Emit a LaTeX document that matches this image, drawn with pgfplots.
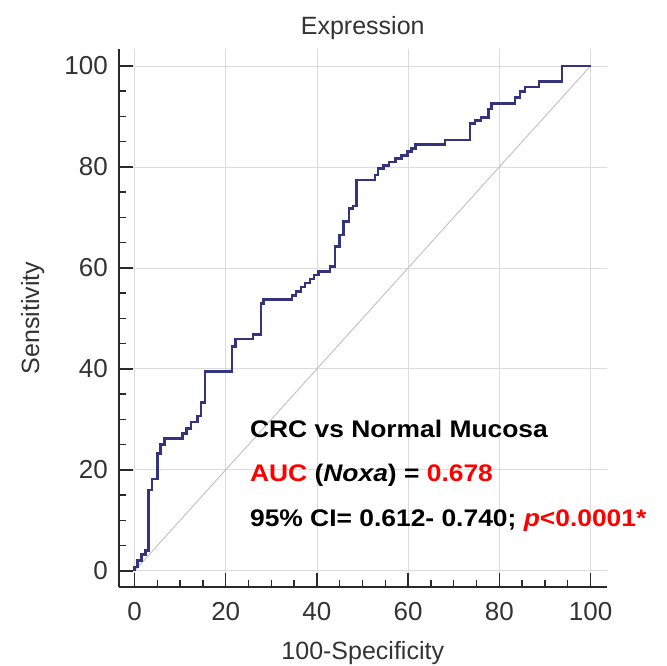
\documentclass[border=0pt]{standalone}
\usepackage{pgfplots}
\pgfplotsset{compat=1.18}
\usepackage{fontspec}
\setmainfont{Liberation Sans}
\definecolor{curve}{HTML}{34347E}
\definecolor{axisgray}{HTML}{2A2A2A}
\definecolor{gridgray}{HTML}{DCDCDC}
\definecolor{diaggray}{HTML}{C4C4C4}
\definecolor{textgray}{HTML}{333333}
\definecolor{ared}{HTML}{FF0000}
\begin{document}
\begin{tikzpicture}[x=1pt,y=1pt]
\begin{axis}[
  at={(119pt,78pt)}, anchor=south west,
  scale only axis, width=487.5pt, height=538.2pt,
  xmin=-3.4, xmax=103.5, ymin=-3.2, ymax=103.4,
  clip=false,
  axis x line*=bottom, axis y line*=left,
  axis line style={-, line width=2.5pt, color=axisgray},
  tick align=inside,
  xtick={0,20,...,100}, ytick={0,20,...,100},
  minor tick num=3,
  major tick length=14pt, minor tick length=7pt,
  every tick/.style={line width=1.5pt, color=axisgray},
  grid=major, major grid style={line width=0.8pt, color=gridgray},
  /pgf/number format/assume math mode=true,
  xticklabel style={font=\fontsize{26}{30}\selectfont, color=textgray, inner sep=0pt, anchor=north, yshift=-15pt},
  yticklabel style={font=\fontsize{26}{30}\selectfont, color=textgray, inner sep=0pt, anchor=east, xshift=-11pt},
  title={Expression},
  title style={at={(axis description cs:0.5,1)}, anchor=base, yshift=8pt, inner sep=0pt, font=\fontsize{25}{30}\selectfont, color=textgray},
  xlabel={100-Specificity},
  xlabel style={at={(axis description cs:0.5,0)}, anchor=base, yshift=-72pt, inner sep=0pt, font=\fontsize{25}{30}\selectfont, color=textgray},
  ylabel={Sensitivity},
  ylabel style={at={(axis description cs:-0.1641,0.5)}, rotate=0, anchor=base, inner sep=0pt, font=\fontsize{25}{30}\selectfont, color=textgray},
]
\addplot[diaggray, line width=1pt] coordinates {(0,0) (100,100)};
\addplot[curve, line width=2.6pt] coordinates {
(0,0) (0,0.8) (0.7,0.8) (0.7,2) (1.5,2) (1.5,3.2) (2.4,3.2) (2.4,4) (3.1,4)
(3.1,16) (3.8,16) (3.8,18.2) (5,18.2) (5,23.3) (5.7,23.3) (5.7,25) (6.6,25)
(6.6,26.2) (10.5,26.2) (10.5,27.2) (11.4,27.2) (11.4,28.2) (12.4,28.2)
(12.4,29.5) (13.8,29.5) (13.8,30.7) (14.6,30.7) (14.6,33.3) (15.5,33.3)
(15.5,39.5) (21.4,39.5) (21.4,44.4) (22.1,44.4) (22.1,45.9) (26.0,45.9)
(26,46.8) (27.7,46.8) (27.7,53.0) (28.3,53) (28.3,53.7) (34.5,53.7)
(34.5,54.5) (35.4,54.5) (35.4,55.3) (36.5,55.3) (36.5,56.2) (37.4,56.2)
(37.4,57.0) (38.5,57) (38.5,57.8) (39.4,57.8) (39.4,58.6) (40.3,58.6)
(40.3,59.3) (42.9,59.3) (42.9,60.3) (44,60.3) (44,64.2) (44.9,64.2)
(44.9,66.5) (45.8,66.5) (45.8,69.2) (47,69.2) (47,71.8) (47.9,71.8)
(47.9,72.3) (48.7,72.3) (48.7,77.4) (52.7,77.4) (52.7,78.4) (53.4,78.4)
(53.4,79.7) (54.6,79.7) (54.6,80.3) (55.8,80.3) (55.8,81.0) (57.2,81)
(57.2,81.7) (58.6,81.7) (58.6,82.3) (59.8,82.3) (59.8,83.0) (60.8,83)
(60.8,83.6) (61.6,83.6) (61.6,84.4) (68.1,84.4) (68.1,85.3) (73.6,85.3)
(73.6,88.6) (74.7,88.6) (74.7,89.2) (76,89.2) (76,89.8) (77.6,89.8)
(77.6,91.5) (78.3,91.5) (78.3,92.6) (83.4,92.6) (83.4,93.8) (84.5,93.8)
(84.5,95.0) (85.6,95) (85.6,95.8) (88.7,95.8) (88.7,96.9) (93.7,96.9)
(93.7,100) (100,100)
};
\node[anchor=base west, inner sep=0pt, font=\fontsize{24}{28}\selectfont\bfseries] at (axis cs:25.3,26.4)
  {\scalebox{1.1}[1]{CRC vs Normal Mucosa}};
\node[anchor=base west, inner sep=0pt, font=\fontsize{24}{28}\selectfont\bfseries] at (axis cs:25.3,17.7)
  {\scalebox{1.1}[1]{\textcolor{ared}{AUC} (\textit{Noxa}) = \textcolor{ared}{0.678}}};
\node[anchor=base west, inner sep=0pt, font=\fontsize{24}{28}\selectfont\bfseries] at (axis cs:25.3,8.8)
  {\scalebox{1.1}[1]{95\% CI= 0.612- 0.740; \textcolor{ared}{\textit{p}<0.0001*}}};
\end{axis}
\pgfresetboundingbox
\useasboundingbox (0,0) rectangle (667,665);
\end{tikzpicture}
\end{document}
